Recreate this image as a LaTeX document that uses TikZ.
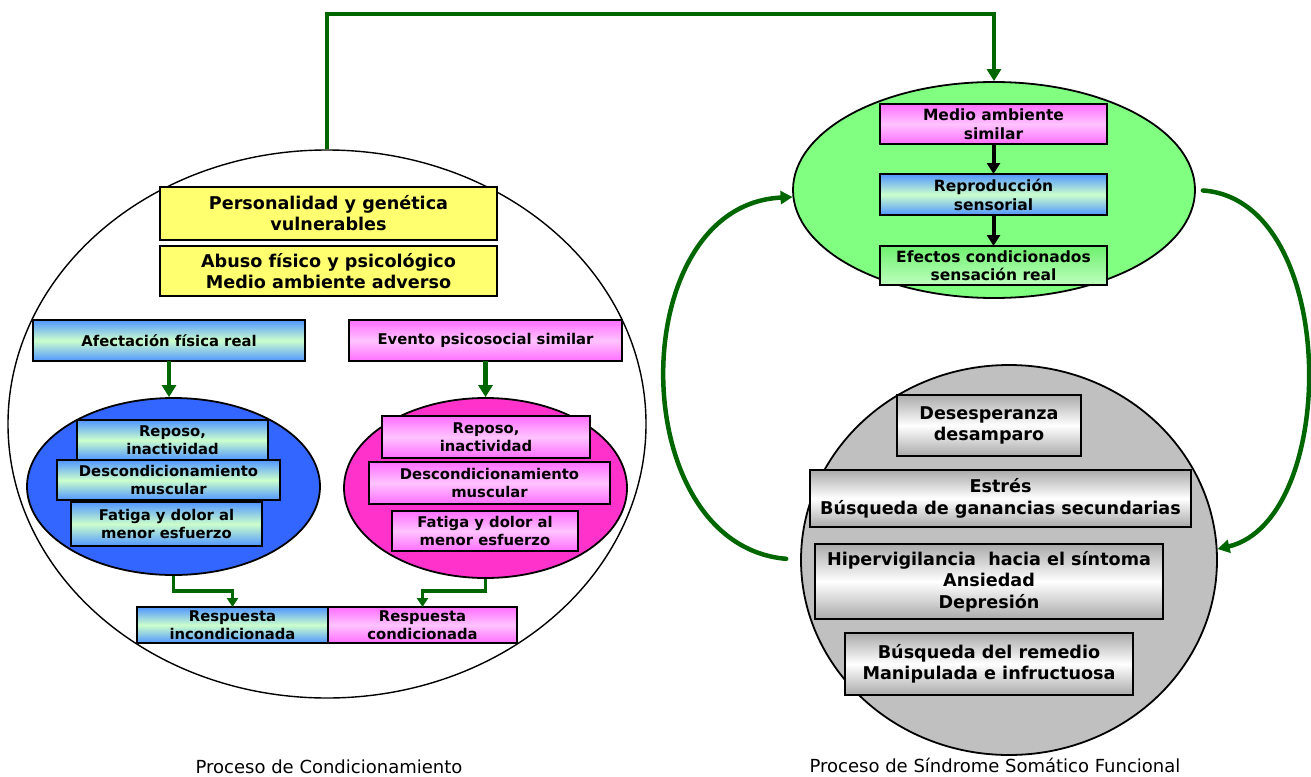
\documentclass[tikz,border=0pt]{standalone}
\usepackage{fontspec}
\setmainfont{DejaVu Sans}
\usetikzlibrary{arrows.meta, positioning, shapes.geometric}

\definecolor{flecha}{RGB}{0,102,0}
\definecolor{amarillo}{RGB}{255,255,112}
\definecolor{azulf}{RGB}{80,150,255}
\definecolor{verdec}{RGB}{204,255,204}
\definecolor{rosaf}{RGB}{255,110,255}
\definecolor{rosac}{RGB}{255,195,255}
\definecolor{azulel}{RGB}{51,102,255}
\definecolor{rosael}{RGB}{255,51,204}
\definecolor{verdeel}{RGB}{128,255,128}
\definecolor{verdef}{RGB}{110,240,110}
\definecolor{verdeb}{RGB}{190,255,190}
\definecolor{grisel}{RGB}{192,192,192}
\definecolor{grisf}{RGB}{170,170,170}

\begin{document}
\begin{tikzpicture}[
    x=1pt, y=-1pt,
    caja/.style={
        draw,
        line width=1.6pt,
        inner sep=0pt,
        outer sep=0pt,
        align=center,
        font=\bfseries\fontsize{14.8}{18}\selectfont,
    },
    cajaazul/.style={caja, top color=azulf, bottom color=azulf, middle color=verdec},
    cajarosa/.style={caja, top color=rosaf, bottom color=rosaf, middle color=rosac},
    cajaverde/.style={caja, top color=verdef, bottom color=verdeb},
    cajagris/.style={
        caja,
        top color=grisf,
        bottom color=grisf,
        middle color=white,
        font=\bfseries\fontsize{17.6}{21.5}\selectfont,
    },
    amarilla/.style={caja, fill=amarillo, font=\bfseries\fontsize{17.6}{21}\selectfont},
    elipse/.style={ellipse, draw, line width=1.8pt, inner sep=0pt},
    flujo/.style={draw=flecha, line width=4.5pt, -{Triangle[length=12pt, width=14pt]}},
    flujofino/.style={draw=flecha, line width=3.5pt, -{Triangle[length=9pt, width=11pt]}},
    curva/.style={draw=flecha, line width=4.5pt, line cap=round, -{Triangle[length=12pt, width=13pt]}},
    negra/.style={draw=black, line width=4pt, -{Triangle[length=11pt, width=13pt]}},
    pie/.style={font=\fontsize{18}{20}\selectfont},
]
    \useasboundingbox (0,0) rectangle (1311,776);

    % Proceso de condicionamiento
    \node[elipse, line width=1.4pt, fill=white, minimum width=638pt, minimum height=548pt] (elCond) at (327,424) {};
    \node[amarilla, minimum width=337pt, minimum height=53pt] (person) at (328.5,213.5) {Personalidad y genética\\vulnerables};
    \node[amarilla, minimum width=337pt, minimum height=50pt] (abuso) at (328.5,271) {Abuso físico y psicológico\\Medio ambiente adverso};
    \node[cajaazul, minimum width=272pt, minimum height=41pt] (afecta) at (169,340.5) {Afectación física real};
    \node[cajarosa, minimum width=273pt, minimum height=41pt] (evento) at (485.5,340.5) {Evento psicosocial similar};

    \node[elipse, fill=azulel, minimum width=293pt, minimum height=177pt] (elAzul) at (173.5,486.5) {};
    \node[elipse, fill=rosael, minimum width=283pt, minimum height=180pt] (elRosa) at (485.5,488) {};

    \node[cajaazul, minimum width=191pt, minimum height=40pt] (repA) at (172.5,440) {Reposo,\\inactividad};
    \node[cajaazul, minimum width=223pt, minimum height=40pt] (desA) at (168.5,480) {Descondicionamiento\\muscular};
    \node[cajaazul, minimum width=191pt, minimum height=44pt] (fatA) at (166.5,524) {Fatiga y dolor al\\menor esfuerzo};
    \node[cajarosa, minimum width=208pt, minimum height=42pt] (repB) at (486,437) {Reposo,\\inactividad};
    \node[cajarosa, minimum width=241pt, minimum height=42pt] (desB) at (489.5,483) {Descondicionamiento\\muscular};
    \node[cajarosa, minimum width=186pt, minimum height=40pt] (fatB) at (485,531) {Fatiga y dolor al\\menor esfuerzo};

    \node[cajaazul, minimum width=191pt, minimum height=36pt] (respA) at (232.5,625) {Respuesta\\incondicionada};
    \node[cajarosa, minimum width=189pt, minimum height=36pt, right=0pt of respA] (respB) {Respuesta\\condicionada};

    \draw[flujo] (afecta.south) -- (afecta.south |- elAzul.north);
    \draw[flujo] (evento.south) -- (evento.south |- elRosa.north);
    \draw[flujofino] (elAzul.south) -- ++(0,15) -| (respA.north);
    \draw[flujofino] (elRosa.south) -- ++(0,12) -| (respB.north);

    % Proceso somatico
    \node[elipse, fill=verdeel, minimum width=402pt, minimum height=216pt] (elVerde) at (994,190) {};
    \node[cajarosa, font=\bfseries\fontsize{15.5}{18.5}\selectfont, minimum width=227pt, minimum height=40pt] (medio) at (993.5,124) {Medio ambiente\\similar};
    \node[cajaazul, font=\bfseries\fontsize{15.5}{19}\selectfont, minimum width=227pt, minimum height=41pt, below=30pt of medio] (repro) {Reproducción\\sensorial};
    \node[cajaverde, font=\bfseries\fontsize{15.5}{18.5}\selectfont, minimum width=227pt, minimum height=39pt, below=31pt of repro] (efectos) {Efectos condicionados\\sensación real};
    \draw[negra] (medio.south) -- (repro.north);
    \draw[negra] (repro.south) -- (efectos.north);

    \node[elipse, fill=grisel, minimum width=416pt, minimum height=390pt] (elGris) at (1009,560) {};
    \node[cajagris, minimum width=184pt, minimum height=61pt] (deses) at (989,425.5) {Desesperanza\\desamparo};
    \node[cajagris, minimum width=381pt, minimum height=57pt] (estres) at (1000.5,498.5) {Estrés\\Búsqueda de ganancias secundarias};
    \node[cajagris, minimum width=348pt, minimum height=75pt] (hiper) at (989,581.5) {Hipervigilancia\ \ hacia el síntoma\\Ansiedad\\Depresión};
    \node[cajagris, minimum width=288pt, minimum height=62pt] (busq) at (989,664) {Búsqueda del remedio\\Manipulada e infructuosa};

    % Conectores
    \coordinate (esquina) at (660,14);
    \draw[flujo] (elCond.north) |- (esquina) -| (elVerde.north);
    \draw[curva, shorten <=14pt] (elGris.west) .. controls (623,545) and (623,205) .. (elVerde.182);
    \draw[curva, shorten <=7pt] (elVerde.east) .. controls (1340,200) and (1340,520) .. (elGris.3);

    % Titulos
    \node[pie] (pieA) at (329,767) {Proceso de Condicionamiento};
    \node[pie] (pieB) at (995,765) {Proceso de Síndrome Somático Funcional};
\end{tikzpicture}
\end{document}
